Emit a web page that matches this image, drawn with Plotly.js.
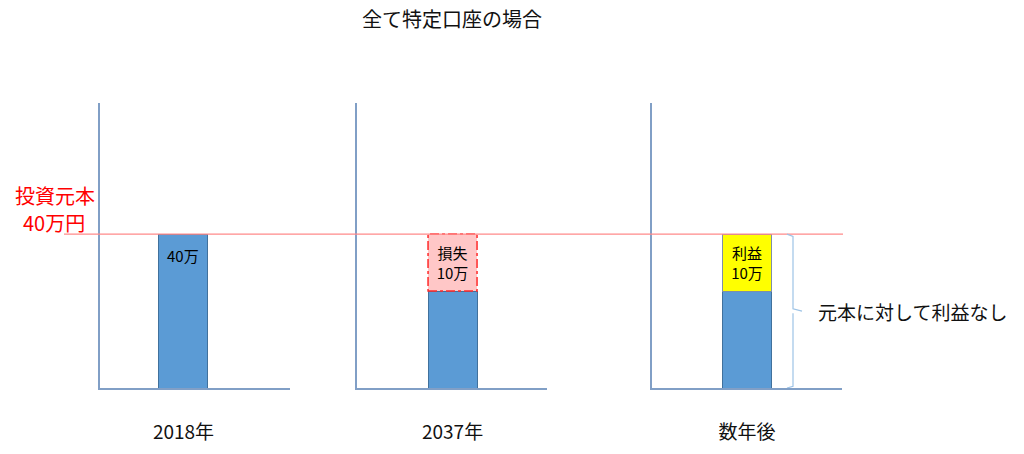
<!DOCTYPE html>
<html>
<head>
<meta charset="utf-8">
<script src="https://cdn.plot.ly/plotly-3.0.1.min.js"></script>
<style>
  html, body { margin: 0; padding: 0; background: #fff; }
  #chart { width: 1024px; height: 454px; }
</style>
</head>
<body>
<div id="chart"></div>
<script>
// Periods shown under each panel
const periods = ['2018年', '2037年', '数年後'];
// Invested principal (万円)
const principal = 40;
// Remaining value of the holding in each period (万円)
const holdingValues = [40, 30, 30];
// Loss stacked on the second period, gain stacked on the third (万円)
const lossValue = 10;
const gainValue = 10;

const FONT = '"Noto Sans CJK JP", "Noto Sans", sans-serif';
const BLUE = '#5B9BD5';
const BLUE_EDGE = '#41719C';
const AXIS_COLOR = '#819FC6';
const BAR_W = 0.5;
const LABEL_FONT = { size: 15, color: '#000', family: FONT };

const traces = [
  {
    type: 'bar', x: [periods[0]], y: [holdingValues[0]],
    xaxis: 'x', yaxis: 'y', width: BAR_W,
    marker: { color: BLUE, line: { color: BLUE_EDGE, width: 1 } },
    hoverinfo: 'skip'
  },
  {
    type: 'bar', x: [periods[1]], y: [holdingValues[1]],
    xaxis: 'x2', yaxis: 'y2', width: BAR_W,
    marker: { color: BLUE, line: { color: BLUE_EDGE, width: 1 } },
    hoverinfo: 'skip'
  },
  {
    type: 'bar', x: [periods[1]], y: [lossValue],
    xaxis: 'x2', yaxis: 'y2', width: BAR_W,
    marker: { color: '#FFC7C7', line: { width: 0 } },
    text: ['損失<br>' + lossValue + '万'], textposition: 'inside', insidetextanchor: 'middle',
    textfont: LABEL_FONT, constraintext: 'none',
    hoverinfo: 'skip'
  },
  {
    type: 'bar', x: [periods[2]], y: [holdingValues[2]],
    xaxis: 'x3', yaxis: 'y3', width: BAR_W,
    marker: { color: BLUE, line: { color: BLUE_EDGE, width: 1 } },
    hoverinfo: 'skip'
  },
  {
    type: 'bar', x: [periods[2]], y: [gainValue],
    xaxis: 'x3', yaxis: 'y3', width: BAR_W,
    marker: { color: '#FFFF00', line: { color: '#7F8FA6', width: 1 } },
    text: ['利益<br>' + gainValue + '万'], textposition: 'inside', insidetextanchor: 'middle',
    textfont: LABEL_FONT, constraintext: 'none',
    hoverinfo: 'skip'
  }
];

const W = 1024, H = 454;
const px = v => v / W;
const py = v => 1 - v / H;
const yDomain = [py(388), py(103)];
const yRange = [13, 63];

function xAxis(domain, range) {
  return {
    domain: domain, range: range, type: 'category',
    showline: true, linecolor: AXIS_COLOR, linewidth: 2,
    showgrid: false, zeroline: false, ticks: '',
    tickfont: { size: 19, color: '#111', family: FONT },
    ticklabelstandoff: 26, fixedrange: true
  };
}
function yAxis(anchor) {
  return {
    domain: yDomain, range: yRange, anchor: anchor,
    showline: true, linecolor: AXIS_COLOR, linewidth: 2,
    showgrid: false, zeroline: false, showticklabels: false, ticks: '',
    fixedrange: true
  };
}

// Dashed outline around the loss segment
const lossBase = holdingValues[1];
const shapes = [
  {
    type: 'rect', xref: 'x2', yref: 'y2',
    x0: -BAR_W / 2, x1: BAR_W / 2, y0: lossBase, y1: lossBase + lossValue,
    line: { color: '#FF2A2A', width: 1.5, dash: 'dashdot' }, layer: 'above'
  },
  // Principal reference line
  {
    type: 'line', xref: 'paper', yref: 'y',
    x0: px(64), x1: px(843), y0: principal, y1: principal,
    line: { color: '#FF8A8A', width: 1.2 }, layer: 'above'
  }
];

// Brace spanning the third bar, from the principal down to the baseline
const braceTop = principal, braceBot = yRange[0];
const braceMid = (braceTop + braceBot) / 2;
const bx = px(793), bxl = px(787), bxr = px(802);
shapes.push({
  type: 'path', xref: 'paper', yref: 'y3',
  path: `M ${bxl} ${braceTop} L ${bx} ${braceTop - 0.4} L ${bx} ${braceMid + 0.4} L ${bxr} ${braceMid} ` +
        `M ${bx} ${braceMid - 0.4} L ${bx} ${braceBot + 0.3} L ${bxl} ${braceBot}`,
  line: { color: '#9DC3E6', width: 1.2 }
});

const layout = {
  width: W, height: H,
  margin: { l: 0, r: 0, t: 0, b: 0 },
  paper_bgcolor: '#fff', plot_bgcolor: 'rgba(0,0,0,0)',
  showlegend: false, barmode: 'stack',
  font: { family: FONT, color: '#111' },
  title: {
    text: '全て特定口座の場合',
    x: px(452), xanchor: 'center', xref: 'paper',
    y: py(20), yanchor: 'middle', yref: 'container',
    font: { size: 20, color: '#111', family: FONT }
  },
  xaxis: xAxis([px(100), px(290)], [-0.852, 1.087]),
  xaxis2: xAxis([px(357), px(547)], [-0.975, 0.964]),
  xaxis3: xAxis([px(652), px(842)], [-0.970, 0.970]),
  yaxis: yAxis('x'),
  yaxis2: yAxis('x2'),
  yaxis3: yAxis('x3'),
  shapes: shapes,
  annotations: [
    // Value label just inside the top of the first bar
    {
      text: holdingValues[0] + '万',
      xref: 'x', yref: 'y', x: periods[0], y: holdingValues[0],
      xanchor: 'center', yanchor: 'middle', yshift: -21, showarrow: false,
      font: LABEL_FONT
    },
    {
      text: '投資元本',
      xref: 'paper', yref: 'paper', x: px(54.5), y: py(195),
      xanchor: 'center', yanchor: 'middle', showarrow: false,
      font: { size: 20, color: '#FF0000', family: FONT }
    },
    {
      text: principal + '万円',
      xref: 'paper', yref: 'paper', x: px(54), y: py(222),
      xanchor: 'center', yanchor: 'middle', showarrow: false,
      font: { size: 20, color: '#FF0000', family: FONT }
    },
    {
      text: '元本に対して利益なし',
      xref: 'paper', yref: 'y3', x: px(816), y: braceMid,
      xanchor: 'left', yanchor: 'middle', showarrow: false,
      font: { size: 19, color: '#111', family: FONT }
    }
  ]
};

Plotly.newPlot('chart', traces, layout, { displayModeBar: false, staticPlot: true });
</script>
</body>
</html>
